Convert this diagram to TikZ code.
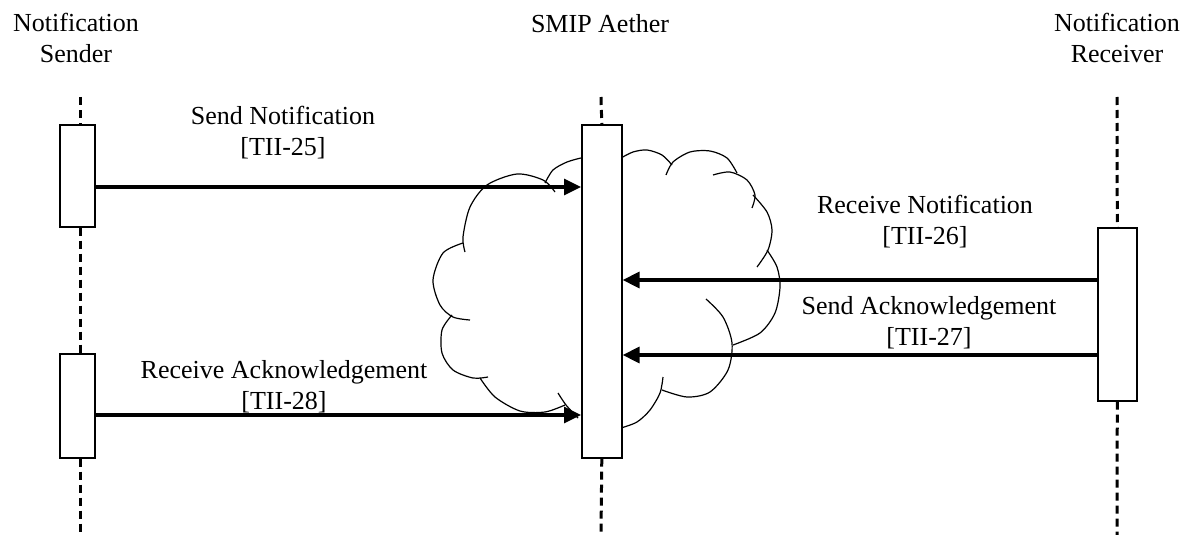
\documentclass[tikz,border=0pt]{standalone}
\usepackage{fontspec}
\setmainfont{Liberation Serif}
\usetikzlibrary{arrows.meta}
\begin{document}
\begin{tikzpicture}[x=1pt,y=-1pt,
  actbox/.style={draw=black,fill=white,line width=1.6pt,inner sep=0pt,anchor=north west},
  life/.style={line width=3pt,dash pattern=on 8pt off 5pt},
  msg/.style={line width=3.2pt,-{Triangle[length=17pt,width=16pt]}},
  puff/.style={line width=1.2pt},
  lbl/.style={font=\fontsize{26}{31}\selectfont,align=center,inner sep=0pt,anchor=base},
  hdr/.style={font=\fontsize{26}{31}\selectfont,align=center,inner sep=0pt,anchor=base}]
\useasboundingbox (0,0) rectangle (1192,535);

% headers (base anchor = baseline of last line)
\node[hdr] (hs) at (76,63) {Notification\\Sender};
\node[hdr] (ha) at (600,33) {SMIP Aether};
\node[hdr] (hr) at (1117,63) {Notification\\Receiver};

% cloud (drawn first, box covers middle)
\draw[puff] plot[smooth] coordinates {(581,158) (567,162) (553,170) (545,183)};
\draw[puff] plot[smooth] coordinates {(555,192) (543,180) (517,174) (487,185) (470,207) (463,237) (465,252)};
\draw[puff] plot[smooth] coordinates {(463,243) (443,253) (433,280) (440,305) (453,317) (470,320)};
\draw[puff] plot[smooth] coordinates {(452,315) (442,330) (442,353) (453,370) (473,378) (488,377)};
\draw[puff] plot[smooth] coordinates {(480,378) (495,397) (520,411) (545,412) (565,405)};
\draw[puff] plot[smooth] coordinates {(558,393) (566,405) (578,418)};
\draw[puff] plot[smooth] coordinates {(621,158) (633,152) (647,150) (662,155) (672,165)};
\draw[puff] plot[smooth] coordinates {(666,175) (673,162) (690,152) (710,151) (727,158) (737,173)};
\draw[puff] plot[smooth] coordinates {(713,175) (730,172) (747,180) (755,195) (752,208)};
\draw[puff] plot[smooth] coordinates {(753,195) (767,212) (772,230) (768,250) (757,267)};
\draw[puff] plot[smooth] coordinates {(767,250) (777,267) (780,287) (775,313) (760,333) (733,345)};
\draw[puff] plot[smooth] coordinates {(706,299) (723,317) (732,343) (728,370) (710,392) (687,397) (662,390)};
\draw[puff] plot[smooth] coordinates {(663,377) (660,393) (650,410) (637,422) (621,428)};

% lifeline end points
\coordinate (sT) at (80,97);  \coordinate (sB) at (80,535);
\coordinate (aT) at (601,97); \coordinate (aB) at (601,535);
\coordinate (rT) at (1117,97); \coordinate (rB) at (1117,535);

% activation boxes
\node[actbox,minimum width=35pt,minimum height=102pt] (sb1) at (59,124) {};
\node[actbox,minimum width=35pt,minimum height=104pt] (sb2) at (59,353) {};
\node[actbox,minimum width=40pt,minimum height=333pt] (ab) at (581,124) {};
\node[actbox,minimum width=39pt,minimum height=173pt] (rb) at (1097,227) {};

% lifelines
\draw[life] (sT) -- (sT |- sb1.north);
\draw[life] (sT |- sb1.south) -- (sT |- sb2.north);
\draw[life] (sT |- sb2.south) -- (sB);
\draw[life] (aT) -- (ab.north);
\draw[life] (ab.south) -- (aB);
\draw[life] (rT) -- (rb.north);
\draw[life] (rb.south) -- (rB);

% message heights
\coordinate (m1) at (0,187);
\coordinate (m2) at (0,280);
\coordinate (m3) at (0,355);
\coordinate (m4) at (0,415);

\draw[msg] (sb1.east |- m1) -- (ab.west |- m1);
\draw[msg] (rb.west |- m2) -- (ab.east |- m2);
\draw[msg] (rb.west |- m3) -- (ab.east |- m3);
\draw[msg] (sb2.east |- m4) -- (ab.west |- m4);

% labels (base anchor = baseline of second line)
\node[lbl] (l1) at (283,155) {Send Notification\\{}[TII-25]};
\node[lbl] (l2) at (925,244) {Receive Notification\\{}[TII-26]};
\node[lbl] (l3) at (929,345) {Send Acknowledgement\\{}[TII-27]};
\node[lbl] (l4) at (284,409) {Receive Acknowledgement\\{}[TII-28]};
\end{tikzpicture}
\end{document}
